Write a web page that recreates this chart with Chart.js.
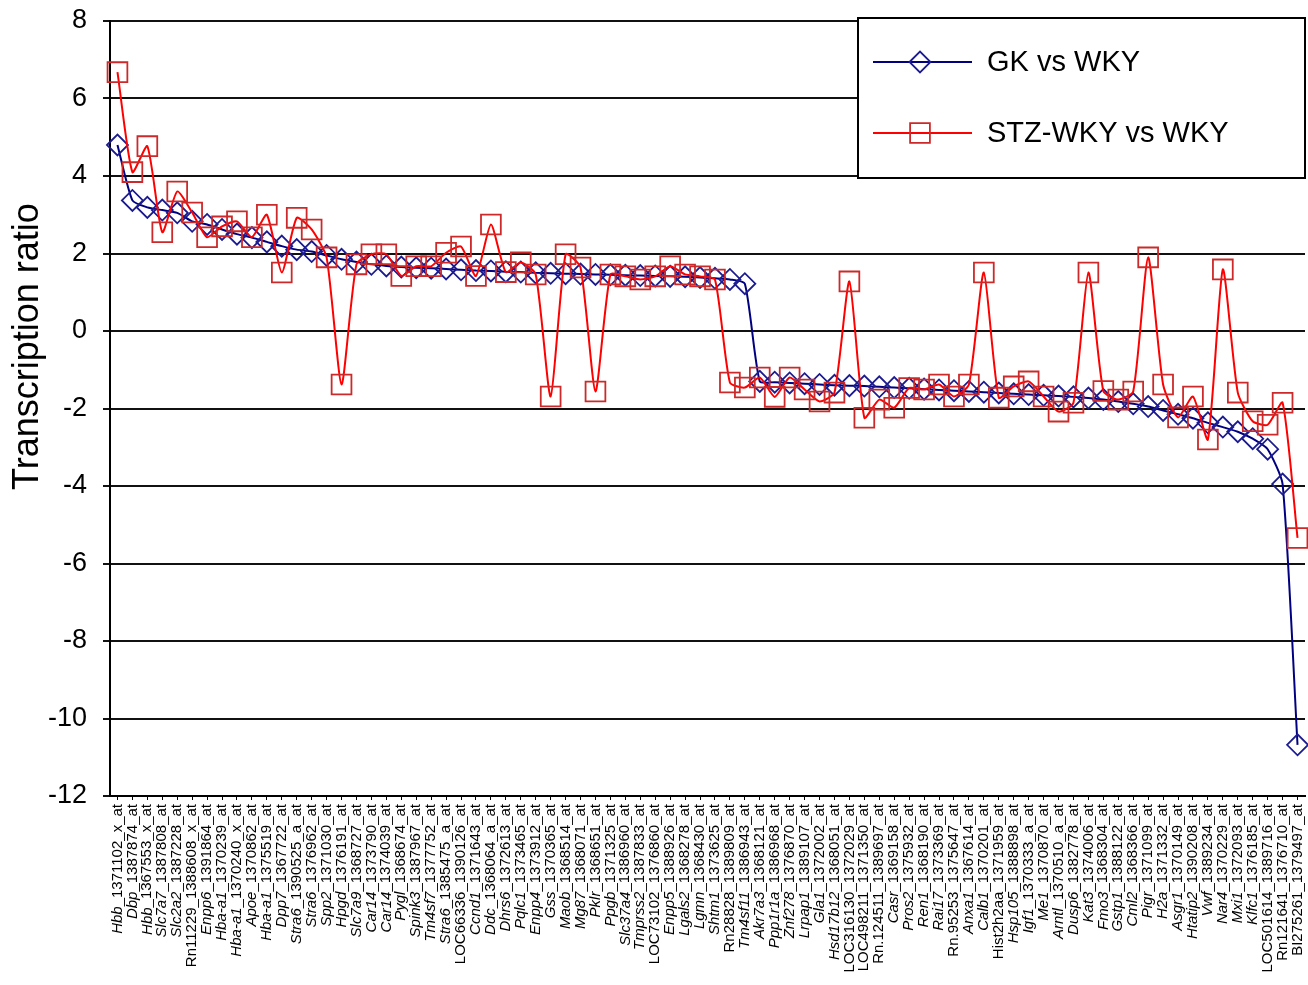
<!DOCTYPE html>
<html>
<head>
<meta charset="utf-8">
<title>Transcription ratio</title>
<script src="https://cdn.jsdelivr.net/npm/chart.js@4.4.1/dist/chart.umd.min.js"></script>
<style>
  html, body { margin: 0; padding: 0; background: #fff; }
  #wrap { width: 1308px; height: 985px; }
</style>
</head>
<body>
<div id="wrap"><canvas id="ratioChart" width="1308" height="985"></canvas></div>
<script>
// ====== DATA ======
const probeLabels = [
  'Hbb_1371102_x_at', 'Dbp_1387874_at', 'Hbb_1367553_x_at', 'Slc7a7_1387808_at', 'Slc2a2_1387228_at',
  'Rn11229_1388608_x_at', 'Enpp6_1391864_at', 'Hba-a1_1370239_at', 'Hba-a1_1370240_x_at', 'Apoe_1370862_at',
  'Hba-a1_1375519_at', 'Dpp7_1367722_at', 'Stra6_1390525_a_at', 'Stra6_1376962_at', 'Spp2_1371030_at',
  'Hpgd_1376191_at', 'Slc7a9_1368727_at', 'Car14_1373790_at', 'Car14_1374039_at', 'Pygl_1368674_at',
  'Spink3_1387967_at', 'Tm4sf7_1377752_at', 'Stra6_1385475_a_at', 'LOC66336_1390126_at', 'Ccnd1_1371643_at',
  'Ddc_1368064_a_at', 'Dhrs6_1372613_at', 'Pqlc1_1373465_at', 'Enpp4_1373912_at', 'Gss_1370365_at',
  'Maob_1368514_at', 'Mg87_1368071_at', 'Pklr_1368651_at', 'Ppgb_1371325_at', 'Slc37a4_1386960_at',
  'Tmprss2_1387833_at', 'LOC73102_1376860_at', 'Enpp5_1388926_at', 'Lgals2_1368278_at', 'Lgmn_1368430_at',
  'Shtm1_1373625_at', 'Rn28828_1389809_at', 'Tm4sf11_1386943_at', 'Akr7a3_1368121_at', 'Ppp1r1a_1386968_at',
  'Znf278_1376870_at', 'Lrpap1_1389107_at', 'Gla1_1372002_at', 'Hsd17b12_1368051_at', 'LOC316130_1372029_at',
  'LOC498211_1371350_at', 'Rn.124511_1389697_at', 'Casr_1369158_at', 'Pros2_1375932_at', 'Ren1_1368190_at',
  'Rai17_1373369_at', 'Rn.95253_1375647_at', 'Anxa1_1367614_at', 'Calb1_1370201_at', 'Hist2h2aa_1371959_at',
  'Hsp105_1388898_at', 'Igf1_1370333_a_at', 'Me1_1370870_at', 'Arntl_1370510_a_at', 'Dusp6_1382778_at',
  'Kat3_1374006_at', 'Fmo3_1368304_at', 'Gstp1_1388122_at', 'Cml2_1368366_at', 'Pigr_1371099_at',
  'H2a_1371332_at', 'Asgr1_1370149_at', 'Htatip2_1390208_at', 'Vwf_1389234_at', 'Nar4_1370229_at',
  'Mxi1_1372093_at', 'Klfc1_1376185_at', 'LOC501614_1389716_at', 'Rn121641_1376710_at', 'BI275261_1379497_at'
];

const gkVsWky = [
  4.8, 3.37, 3.19, 3.12, 3.05, 2.83, 2.75, 2.62, 2.5, 2.41,
  2.3, 2.19, 2.1, 2.05, 1.95, 1.85, 1.78, 1.72, 1.68, 1.65,
  1.63, 1.62, 1.6, 1.58, 1.56, 1.55, 1.53, 1.52, 1.5, 1.49,
  1.48, 1.47, 1.46, 1.45, 1.44, 1.43, 1.42, 1.41, 1.4, 1.38,
  1.36, 1.33, 1.22, -1.3, -1.32, -1.34, -1.36, -1.38, -1.4, -1.41,
  -1.42, -1.44, -1.46, -1.48, -1.5, -1.52, -1.54, -1.56, -1.58, -1.6,
  -1.62, -1.64, -1.66, -1.68, -1.7, -1.73, -1.77, -1.82, -1.88, -1.95,
  -2.05, -2.15, -2.25, -2.37, -2.48, -2.6, -2.78, -3.05, -3.95, -10.68
];

const stzVsWky = [
  6.68, 4.1, 4.77, 2.55, 3.6, 3.06, 2.42, 2.7, 2.83, 2.42,
  3.0, 1.51, 2.92, 2.62, 1.9, -1.38, 1.72, 1.98, 1.98, 1.42,
  1.67, 1.67, 2.02, 2.18, 1.42, 2.75, 1.52, 1.77, 1.46, -1.69,
  1.98, 1.64, -1.56, 1.46, 1.41, 1.33, 1.41, 1.67, 1.46, 1.41,
  1.33, -1.33, -1.46, -1.2, -1.7, -1.2, -1.51, -1.82, -1.59, 1.28,
  -2.24, -1.77, -1.98, -1.47, -1.51, -1.38, -1.69, -1.38, 1.51, -1.72,
  -1.43, -1.3, -1.69, -2.08, -1.85, 1.51, -1.55, -1.77, -1.56, 1.9,
  -1.38, -2.23, -1.69, -2.8, 1.59, -1.59, -2.33, -2.42, -1.85, -5.34
];

const seriesNames = ['GK vs WKY', 'STZ-WKY vs WKY'];
const yMin = -12;
const yMax = 8;
const yStep = 2;
const yAxisTitle = 'Transcription ratio';

const FONT = "'Liberation Sans', Arial, sans-serif";

// ====== PLUGINS ======
// y axis title, drawn a bit above the plot middle like the original
const sideTitle = {
  id: 'sideTitle',
  afterDraw(chart) {
    const { ctx, chartArea } = chart;
    ctx.save();
    ctx.translate(28, chartArea.top + chartArea.height * 0.42);
    ctx.rotate(-Math.PI / 2);
    ctx.font = '36px ' + FONT;
    ctx.fillStyle = '#000';
    ctx.textAlign = 'center';
    ctx.textBaseline = 'middle';
    ctx.fillText(yAxisTitle, 0, 0);
    ctx.restore();
  }
};

// probe labels: gene symbol in italics, plain probe id after it
const probeTicks = {
  id: 'probeTicks',
  afterDraw(chart) {
    const xs = chart.scales.x;
    const { ctx } = chart;
    const size = 15;
    ctx.save();
    ctx.fillStyle = '#000';
    ctx.textBaseline = 'middle';
    ctx.textAlign = 'left';
    chart.data.labels.forEach((lab, i) => {
      const cut = lab.indexOf('_');
      const sym = lab.slice(0, cut);
      const rest = lab.slice(cut);
      const italic = !/^(LOC|Rn|BI|Hist)/.test(sym);
      const symFont = (italic ? 'italic ' : '') + size + 'px ' + FONT;
      const restFont = size + 'px ' + FONT;
      ctx.font = symFont;
      const w1 = ctx.measureText(sym).width;
      ctx.font = restFont;
      const w2 = ctx.measureText(rest).width;
      ctx.save();
      ctx.translate(xs.getPixelForTick(i), xs.top + 8);
      ctx.rotate(-Math.PI / 2);
      ctx.font = symFont;
      ctx.fillText(sym, -(w1 + w2), 0);
      ctx.font = restFont;
      ctx.fillText(rest, -w2, 0);
      ctx.restore();
    });
    ctx.restore();
  }
};

// boxed legend in the top right corner of the plot
const boxLegend = {
  id: 'boxLegend',
  afterDraw(chart) {
    const { ctx, chartArea } = chart;
    const w = 447, h = 160;
    const x0 = chartArea.right - w;
    const y0 = chartArea.top - 3;
    ctx.save();
    ctx.fillStyle = '#fff';
    ctx.fillRect(x0, y0, w, h);
    ctx.lineWidth = 2;
    ctx.strokeStyle = '#000';
    ctx.strokeRect(x0, y0, w, h);

    chart.data.datasets.forEach((ds, i) => {
      const y = y0 + 44 + i * 71;
      const mx = x0 + 62;
      // line sample
      ctx.beginPath();
      ctx.strokeStyle = ds.borderColor;
      ctx.lineWidth = ds.borderWidth;
      ctx.moveTo(x0 + 15, y);
      ctx.lineTo(x0 + 114, y);
      ctx.stroke();
      // marker
      const r = ds.pointRadius;
      ctx.beginPath();
      ctx.strokeStyle = ds.pointBorderColor;
      ctx.lineWidth = ds.pointBorderWidth;
      if (ds.pointStyle === 'rectRot') {
        ctx.moveTo(mx - r, y);
        ctx.lineTo(mx, y - r);
        ctx.lineTo(mx + r, y);
        ctx.lineTo(mx, y + r);
        ctx.closePath();
      } else {
        const s = r * Math.SQRT1_2;
        ctx.rect(mx - s, y - s, 2 * s, 2 * s);
      }
      ctx.stroke();
      // text
      ctx.fillStyle = '#000';
      ctx.font = '29px ' + FONT;
      ctx.textAlign = 'left';
      ctx.textBaseline = 'middle';
      ctx.fillText(ds.label, x0 + 129, y + 1);
    });
    ctx.restore();
  }
};

// ====== CHART ======
const ctx = document.getElementById('ratioChart').getContext('2d');
new Chart(ctx, {
  type: 'line',
  data: {
    labels: probeLabels,
    datasets: [
      {
        label: seriesNames[0],
        data: gkVsWky,
        borderColor: '#000080',
        borderWidth: 2,
        pointStyle: 'rectRot',
        pointRadius: 10.5,
        pointBorderColor: '#1c1c90',
        pointBorderWidth: 1.8,
        pointBackgroundColor: 'rgba(0,0,0,0)',
        tension: 0.2,
        order: 2
      },
      {
        label: seriesNames[1],
        data: stzVsWky,
        borderColor: '#ff0000',
        borderWidth: 2,
        pointStyle: 'rect',
        pointRadius: 14,
        pointBorderColor: '#cc2a2a',
        pointBorderWidth: 1.8,
        pointBackgroundColor: 'rgba(0,0,0,0)',
        tension: 0.2,
        order: 1
      }
    ]
  },
  options: {
    responsive: false,
    animation: false,
    layout: { autoPadding: false, padding: { top: 21, right: 3, left: 0, bottom: 0 } },
    plugins: {
      legend: { display: false },
      tooltip: { enabled: false }
    },
    scales: {
      x: {
        offset: true,
        afterFit: scale => {
          scale.height = 189;
          scale.paddingLeft = 0;
          scale.paddingRight = 0;
        },
        grid: { display: true, drawOnChartArea: false, drawTicks: true, tickLength: 4, color: '#000' },
        border: { display: true, color: '#000', width: 2 },
        ticks: { display: false, autoSkip: false }
      },
      y: {
        min: yMin,
        max: yMax,
        afterFit: scale => {
          scale.width = 110;
          scale.paddingTop = 0;
          scale.paddingBottom = 0;
        },
        grid: { color: '#111', lineWidth: 2, drawTicks: true, tickLength: 7 },
        border: { display: true, color: '#000', width: 2 },
        ticks: {
          stepSize: yStep,
          padding: 16,
          color: '#000',
          font: { family: FONT, size: 27 }
        }
      }
    }
  },
  plugins: [sideTitle, probeTicks, boxLegend]
});
</script>
</body>
</html>
